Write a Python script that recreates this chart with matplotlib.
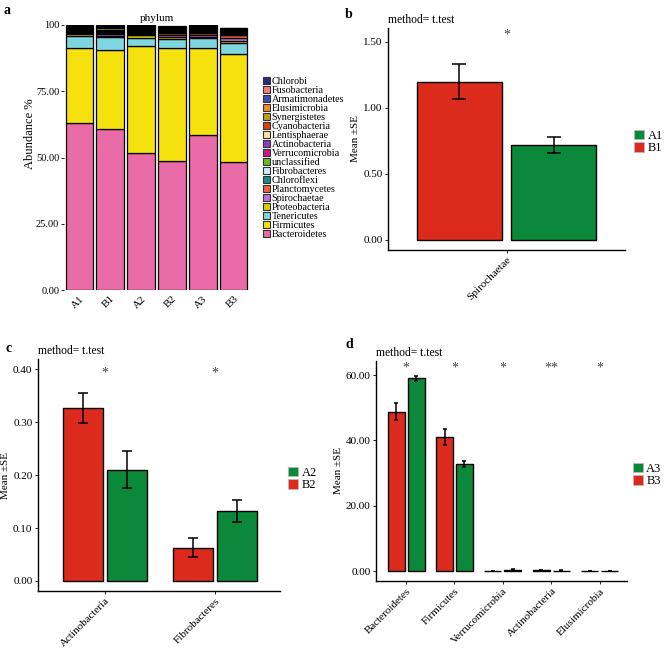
import matplotlib
matplotlib.use("Agg")
import matplotlib.pyplot as plt
from matplotlib.patches import Patch
import numpy as np

plt.rcParams['font.family'] = ['Liberation Serif', 'DejaVu Serif']

# ---- panel a: relative abundance per sample (bottom -> top of stack)
samples = ["A1", "B1", "A2", "B2", "A3", "B3"]
bacteroidetes   = [63.0, 60.8, 51.6, 48.7, 58.5, 48.4]
firmicutes      = [28.2, 29.9, 40.6, 42.5, 32.8, 40.8]
tenericutes     = [4.7, 4.9, 3.0, 3.4, 3.7, 4.1]
proteobacteria  = [0.8, 0.3, 0.9, 0.8, 0.5, 0.8]
spirochaetae    = [0.3, 0.7, 0.3, 0.8, 0.8, 1.0]
planctomycetes  = [0.2, 0.1, 0.2, 0.6, 0.6, 1.0]
chloroflexi     = [0.1, 0.1, 0.1, 0.1, 0.1, 0.3]
fibrobacteres   = [0.2, 0.2, 0.3, 0.2, 0.2, 0.2]
unclassified    = [0.2, 0.2, 0.2, 0.2, 0.2, 0.2]
verrucomicrobia = [0.4, 0.3, 0.4, 0.4, 0.4, 0.4]
actinobacteria  = [0.3, 0.3, 0.4, 0.3, 0.3, 0.3]
lentisphaerae   = [0.2, 0.2, 0.2, 0.2, 0.2, 0.2]
cyanobacteria   = [0.2, 0.2, 0.2, 0.2, 0.2, 0.2]
synergistetes   = [0.3, 0.8, 0.3, 0.2, 0.2, 0.2]
elusimicrobia   = [0.2, 0.2, 0.2, 0.2, 0.2, 0.2]
armatimonadetes = [0.2, 0.2, 0.3, 0.2, 0.3, 0.2]
fusobacteria    = [0.2, 0.2, 0.3, 0.2, 0.3, 0.2]
chlorobi        = [0.3, 0.4, 0.5, 0.4, 0.5, 0.3]

phyla = ["Bacteroidetes", "Firmicutes", "Tenericutes", "Proteobacteria",
         "Spirochaetae", "Planctomycetes", "Chloroflexi", "Fibrobacteres",
         "unclassified", "Verrucomicrobia", "Actinobacteria", "Lentisphaerae",
         "Cyanobacteria", "Synergistetes", "Elusimicrobia", "Armatimonadetes",
         "Fusobacteria", "Chlorobi"]
phylum_values = [bacteroidetes, firmicutes, tenericutes, proteobacteria,
                 spirochaetae, planctomycetes, chloroflexi, fibrobacteres,
                 unclassified, verrucomicrobia, actinobacteria, lentisphaerae,
                 cyanobacteria, synergistetes, elusimicrobia, armatimonadetes,
                 fusobacteria, chlorobi]
phylum_colors = ["#E96BA8", "#F5E10D", "#7FD5E0", "#D2D400",
                 "#C070D2", "#F0603F", "#1A8A8A", "#C9EEF5",
                 "#66BB22", "#C8198A", "#8A40BE", "#FBE3A0",
                 "#E0400F", "#B9A01E", "#F28C1C", "#3A4FB0",
                 "#F08080", "#2A2A7A"]

# ---- panels b-d: mean +- SE
b_cats = ["Spirochaetae"]
b_B1 = [1.20]; b_B1_se = [0.13]
b_A1 = [0.72]; b_A1_se = [0.058]
b_stars = ["*"]

c_cats = ["Actinobacteria", "Fibrobacteres"]
c_B2 = [0.326, 0.063]; c_B2_se = [0.028, 0.018]
c_A2 = [0.210, 0.132]; c_A2_se = [0.035, 0.020]
c_stars = ["*", "*"]

d_cats = ["Bacteroidetes", "Firmicutes", "Verrucomicrobia", "Actinobacteria", "Elusimicrobia"]
d_B3 = [48.7, 41.0, 0.05, 0.25, 0.05]; d_B3_se = [2.6, 2.5, 0.03, 0.05, 0.02]
d_A3 = [59.0, 32.8, 0.45, 0.15, 0.03]; d_A3_se = [0.8, 1.0, 0.25, 0.03, 0.02]
d_stars = ["*", "*", "*", "**", "*"]

RED = "#DC2B1C"
GREEN = "#0B883A"
STAR = "#444444"

W, H = 668, 648
fig = plt.figure(figsize=(W / 100, H / 100), dpi=100)


def px_axes(left, top, right, bottom):
    return fig.add_axes([left / W, 1 - bottom / H, (right - left) / W, (bottom - top) / H])


def fig_text(x, y, s, **kw):
    fig.text(x / W, 1 - y / H, s, **kw)


# ================= panel a
ax = px_axes(64, 25, 249, 290)
x = np.arange(len(samples))
bottom = np.zeros(len(samples))
for name, vals, col in zip(phyla, phylum_values, phylum_colors):
    ax.bar(x, vals, 0.9, bottom=bottom, color=col, edgecolor="black", linewidth=0.9, label=name)
    bottom += np.array(vals)
ax.set_xlim(-0.5, 5.5)
ax.set_ylim(0, 100)
ax.set_yticks([0, 25, 50, 75, 100])
ax.set_yticklabels(["0.00", "25.00", "50.00", "75.00", "100"], fontsize=7.5)
ax.set_xticks(x)
ax.set_xticklabels(samples, rotation=45, ha="right", rotation_mode="anchor", fontsize=8)
for s in ax.spines.values():
    s.set_visible(False)
ax.tick_params(axis="y", length=2.5, width=0.6, pad=1)
ax.tick_params(axis="x", length=0, pad=3)
ax.set_ylabel("Abundance %", fontsize=9)
ax.yaxis.set_label_coords(-0.15, 0.59)
ax.set_title("phylum", fontsize=8, pad=3)
handles = [Patch(facecolor=c, edgecolor="#333333", linewidth=0.8) for c in phylum_colors][::-1]
ax.legend(handles, phyla[::-1], loc="center left", bbox_to_anchor=(258 / W, 1 - 158 / H),
          bbox_transform=fig.transFigure, frameon=False, fontsize=7.3, labelspacing=0.0,
          handlelength=0.65, handleheight=0.65, handletextpad=0.2, borderpad=0)
fig_text(4, 10, "a", fontsize=10, fontweight="bold", va="center")


def mean_panel(ax, cats, red, red_se, green, green_se, stars, star_y, offset, width,
               capsize, ylim, xlim, yticks, ylabels, leg_labels, leg_xy):
    xs = np.arange(1, len(cats) + 1)
    ax.bar(xs - offset, red, width, color=RED, edgecolor="black", linewidth=1.0)
    ax.bar(xs + offset, green, width, color=GREEN, edgecolor="black", linewidth=1.0)
    ax.errorbar(xs - offset, red, yerr=red_se, fmt="none", ecolor="black", elinewidth=1.1,
                capsize=capsize, capthick=1.1)
    ax.errorbar(xs + offset, green, yerr=green_se, fmt="none", ecolor="black", elinewidth=1.1,
                capsize=capsize, capthick=1.1)
    for xi, st in zip(xs, stars):
        ax.text(xi, star_y, st, ha="center", va="center", fontsize=10, color=STAR)
    ax.set_xlim(*xlim)
    ax.set_ylim(*ylim)
    ax.set_yticks(yticks)
    ax.set_yticklabels(ylabels, fontsize=8)
    ax.set_xticks(xs)
    ax.set_xticklabels(cats, rotation=45, ha="right", rotation_mode="anchor", fontsize=8)
    ax.spines["top"].set_visible(False)
    ax.spines["right"].set_visible(False)
    ax.spines["left"].set_linewidth(1.0)
    ax.spines["bottom"].set_linewidth(1.0)
    ax.tick_params(length=2.5, width=0.6, pad=1.5)
    ax.set_ylabel("Mean ±SE", fontsize=8, labelpad=2)
    ax.text(0, 1.01, "method= t.test", transform=ax.transAxes, ha="left", va="bottom", fontsize=8.4)
    h = [Patch(facecolor=GREEN, edgecolor="#bbbbbb", linewidth=0.5),
         Patch(facecolor=RED, edgecolor="#bbbbbb", linewidth=0.5)]
    ax.legend(h, leg_labels, loc="center left", bbox_to_anchor=(leg_xy[0] / W, 1 - leg_xy[1] / H),
              bbox_transform=fig.transFigure, frameon=False, fontsize=9, labelspacing=0.0,
              handlelength=0.8, handleheight=0.8, handletextpad=0.25, borderpad=0)


# ================= panel b
ax = px_axes(388, 28, 625, 250)
mean_panel(ax, b_cats, b_B1, b_B1_se, b_A1, b_A1_se, b_stars, 1.553, 0.24, 0.43, 5,
           (-0.0758, 1.606), (0.4, 1.6), [0, 0.5, 1.0, 1.5], ["0.00", "0.50", "1.00", "1.50"],
           ["A1", "B1"], (628, 142))
fig_text(345, 15, "b", fontsize=10, fontweight="bold", va="center")

# ================= panel c
ax = px_axes(38, 359, 280, 591)
mean_panel(ax, c_cats, c_B2, c_B2_se, c_A2, c_A2_se, c_stars, 0.392, 0.2, 0.36, 3.5,
           (-0.0189, 0.419), (0.391, 2.59), [0, 0.1, 0.2, 0.3, 0.4],
           ["0.00", "0.10", "0.20", "0.30", "0.40"], ["A2", "B2"], (282, 479))
fig_text(5, 348, "c", fontsize=10, fontweight="bold", va="center")

# ================= panel d
ax = px_axes(376, 361, 627, 581)
mean_panel(ax, d_cats, d_B3, d_B3_se, d_A3, d_A3_se, d_stars, 62.1, 0.206, 0.35, 1.5,
           (-3.06, 64.3), (0.38, 5.56), [0, 20, 40, 60],
           ["0.00", "20.00", "40.00", "60.00"], ["A3", "B3"], (627, 475))
fig_text(345, 344, "d", fontsize=10, fontweight="bold", va="center")

fig.savefig("out.png", dpi=100)
